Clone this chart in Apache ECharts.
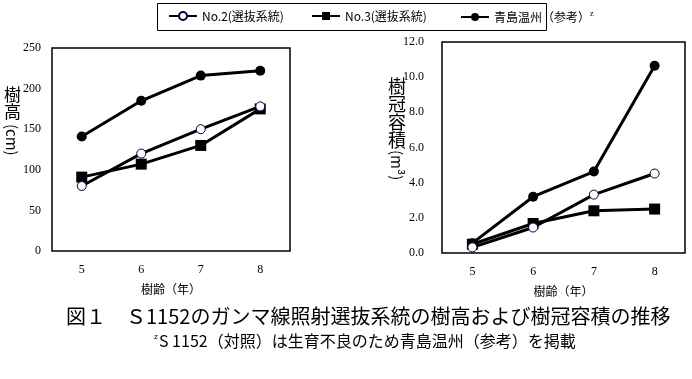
<!DOCTYPE html>
<html><head><meta charset="utf-8">
<script src="https://cdn.jsdelivr.net/npm/echarts@6/dist/echarts.min.js"></script>
<style>html,body{margin:0;padding:0;background:#fff}#c{width:692px;height:379px}</style>
</head><body><div id="c"></div>
<script>
const categories = ['5','6','7','8'];
const seriesNames = ['No.2(選抜系統)','No.3(選抜系統)','青島温州（参考）'];
const heightNo2 = [80, 120, 150, 178];
const heightNo3 = [91, 107, 130, 175];
const heightAoshima = [141, 185, 216, 222];
const volNo2 = [0.32, 1.45, 3.32, 4.52];
const volNo3 = [0.5, 1.68, 2.4, 2.5];
const volAoshima = [0.56, 3.2, 4.63, 10.65];
const heightTicks = {min:0, max:250, interval:50};
const volTicks = {min:0, max:12, interval:2};

const CJK = '"Noto Sans CJK JP", sans-serif';
const SERIF = '"Liberation Serif", "DejaVu Serif", serif';

const chart = echarts.init(document.getElementById('c'), null, {renderer:'canvas'});

function mk(name, data, idx, kind){
  const base = {name, type:'line', data, xAxisIndex:idx, yAxisIndex:idx,
    lineStyle:{color:'#000', width:3}, z: 2};
  if(kind===0) Object.assign(base,{symbol:'circle', symbolSize:9, itemStyle:{color:'#fff', borderColor:'#000040', borderWidth:1}, z:3});
  if(kind===1) Object.assign(base,{symbol:'rect', symbolSize:11, itemStyle:{color:'#000'}});
  if(kind===2) Object.assign(base,{symbol:'circle', symbolSize:10, itemStyle:{color:'#000'}});
  return base;
}

const xAx = (gi) => ({type:'category', gridIndex:gi, data:categories, boundaryGap:true,
  axisLine:{show:false}, axisTick:{show:false},
  axisLabel:{color:'#000', fontFamily:SERIF, fontSize:12, margin:13},
  name:'樹齢（年）', nameLocation:'middle', nameGap:32,
  nameTextStyle:{color:'#000', fontFamily:CJK, fontSize:12}});

const legendText = {color:'#000', fontFamily:CJK, fontSize:12,
  rich:{sup:{fontSize:8, verticalAlign:'top', color:'#000', fontFamily:SERIF, padding:[0,0,6,0]}}};

const option = {
  animation:false,
  backgroundColor:'#fff',
  legend:[
    {data:[seriesNames[0]], left:168, top:10, itemWidth:28, itemHeight:10, itemGap:0, padding:0, textStyle:legendText},
    {data:[seriesNames[1]], left:311, top:10, itemWidth:28, itemHeight:10, itemGap:0, padding:0, textStyle:legendText},
    {data:[seriesNames[2]], left:460, top:10, itemWidth:28, itemHeight:10, itemGap:0, padding:0, textStyle:legendText,
     formatter: n => n + '{sup|z}'}
  ],
  grid:[
    {left:52, top:48, width:238, height:203, show:true, borderColor:'#000', borderWidth:1.5, backgroundColor:'transparent'},
    {left:442, top:42, width:243, height:211, show:true, borderColor:'#000', borderWidth:1.5, backgroundColor:'transparent'}
  ],
  xAxis:[xAx(0), xAx(1)],
  yAxis:[
    {type:'value', gridIndex:0, min:heightTicks.min, max:heightTicks.max, interval:heightTicks.interval,
     axisLine:{show:false}, axisTick:{show:false}, splitLine:{show:false},
     axisLabel:{color:'#000', fontFamily:SERIF, fontSize:12, margin:11}},
    {type:'value', gridIndex:1, min:volTicks.min, max:volTicks.max, interval:volTicks.interval,
     axisLine:{show:false}, axisTick:{show:false}, splitLine:{show:false},
     axisLabel:{color:'#000', fontFamily:SERIF, fontSize:12, margin:18, formatter:v=>v.toFixed(1)}}
  ],
  series:[
    mk(seriesNames[0], heightNo2, 0, 0),
    mk(seriesNames[1], heightNo3, 0, 1),
    mk(seriesNames[2], heightAoshima, 0, 2),
    mk(seriesNames[0], volNo2, 1, 0),
    mk(seriesNames[1], volNo3, 1, 1),
    mk(seriesNames[2], volAoshima, 1, 2)
  ],
  graphic:[
    {type:'rect', shape:{x:157.5, y:3.5, width:389, height:27}, style:{fill:'none', stroke:'#000', lineWidth:1}, silent:true},
    {type:'text', left:4, top:86, style:{text:'樹\n高', font:'17px '+CJK, fill:'#000', lineHeight:17}},
    {type:'text', x:4, y:124, rotation:-Math.PI/2, originX:0, originY:0,
     style:{text:'(cm)', font:'15px '+CJK, fill:'#000', x:0, y:0, textVerticalAlign:'bottom'}},
    {type:'text', left:388, top:77, style:{text:'樹\n冠\n容\n積', font:'18px '+CJK, fill:'#000', lineHeight:18}},
    {type:'text', x:389, y:150, rotation:-Math.PI/2, originX:0, originY:0,
     style:{text:'(m³)', font:'15px '+CJK, fill:'#000', x:0, y:0, textVerticalAlign:'bottom'}},
    {type:'text', x:66, y:316, style:{text:'図１　Ｓ1152のガンマ線照射選抜系統の樹高および樹冠容積の推移', font:'20px '+CJK, fill:'#000', textAlign:'left', textVerticalAlign:'middle'}},
    {type:'text', x:154, y:341, style:{text:'{sup|z}S 1152（対照）は生育不良のため青島温州（参考）を掲載', font:'16px '+CJK, fill:'#000', textAlign:'left', textVerticalAlign:'middle',
      rich:{sup:{fontSize:8, verticalAlign:'top', fill:'#000', padding:[0,1,8,0]}}}}
  ]
};
chart.setOption(option);
</script></body></html>
